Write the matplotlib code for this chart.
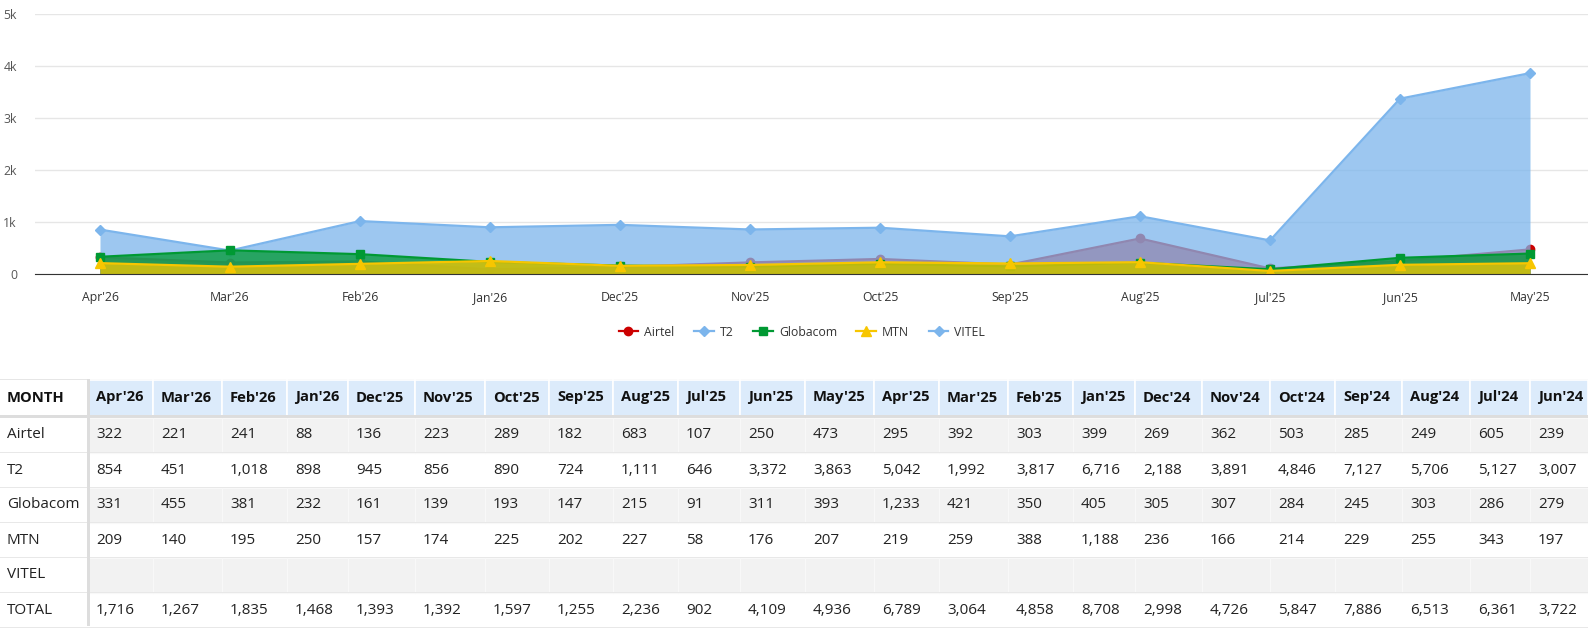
import matplotlib.pyplot as plt
from matplotlib.lines import Line2D
from matplotlib.patches import Rectangle

plt.rcParams['font.family'] = ['Open Sans', 'DejaVu Sans']

months = ["Apr'26", "Mar'26", "Feb'26", "Jan'26", "Dec'25", "Nov'25", "Oct'25", "Sep'25",
          "Aug'25", "Jul'25", "Jun'25", "May'25", "Apr'25", "Mar'25", "Feb'25", "Jan'25",
          "Dec'24", "Nov'24", "Oct'24", "Sep'24", "Aug'24", "Jul'24", "Jun'24"]
airtel = [322, 221, 241, 88, 136, 223, 289, 182, 683, 107, 250, 473, 295, 392, 303, 399,
          269, 362, 503, 285, 249, 605, 239]
t2 = [854, 451, 1018, 898, 945, 856, 890, 724, 1111, 646, 3372, 3863, 5042, 1992, 3817,
      6716, 2188, 3891, 4846, 7127, 5706, 5127, 3007]
globacom = [331, 455, 381, 232, 161, 139, 193, 147, 215, 91, 311, 393, 1233, 421, 350, 405,
            305, 307, 284, 245, 303, 286, 279]
mtn = [209, 140, 195, 250, 157, 174, 225, 202, 227, 58, 176, 207, 219, 259, 388, 1188,
       236, 166, 214, 229, 255, 343, 197]
vitel = [None] * len(months)
total = [1716, 1267, 1835, 1468, 1393, 1392, 1597, 1255, 2236, 902, 4109, 4936, 6789, 3064,
         4858, 8708, 2998, 4726, 5847, 7886, 6513, 6361, 3722]
n_chart = 12  # chart shows the latest 12 months

series = [
    ("Airtel", airtel, "#cc0000", "o", 6),
    ("T2", t2, "#7cb5ec", "D", 5),
    ("Globacom", globacom, "#009933", "s", 6),
    ("MTN", mtn, "#f7c600", "^", 7),
    ("VITEL", vitel, "#7cb5ec", "D", 5),
]

W, H = 1588, 640
fig = plt.figure(figsize=(W / 100, H / 100), dpi=100)

# ---- chart ----
x0, x1, y_top, y_bot = 35, 1588, 14, 274
ax = fig.add_axes([x0 / W, 1 - y_bot / H, (x1 - x0) / W, (y_bot - y_top) / H])
xs = list(range(n_chart))
z = 2
handles = []
for name, vals, col, mk, ms in series:
    v = vals[:n_chart]
    if all(a is not None for a in v):
        ax.fill_between(xs, 0, v, color=col, alpha=0.75, lw=0, zorder=z)
        ax.plot(xs, v, color=col, lw=1.6, marker=mk, ms=ms, zorder=z + 0.5)
    z += 1
    handles.append(Line2D([], [], color=col, lw=1.6, marker=mk, ms=ms))

ax.set_xlim(-0.5, 11 + 58 / 130)
ax.set_ylim(0, 5000)
ax.set_yticks([0, 1000, 2000, 3000, 4000, 5000])
ax.set_yticklabels(["0", "1k", "2k", "3k", "4k", "5k"])
ax.set_xticks(xs)
ax.set_xticklabels(months[:n_chart])
ax.tick_params(axis='y', length=0, pad=13, labelsize=8.8, labelcolor="#555555")
ax.tick_params(axis='x', length=0, pad=12, labelsize=8.8, labelcolor="#333333")
ax.grid(axis='y', color="#e6e6e6", lw=1, zorder=0)
ax.set_axisbelow(True)
for s in ["left", "right", "top"]:
    ax.spines[s].set_visible(False)
ax.spines["bottom"].set_color("#333333")
ax.spines["bottom"].set_zorder(20)

fig.legend(handles, [s[0] for s in series], loc="center", bbox_to_anchor=(802 / W, 1 - 332 / H),
           ncol=5, frameon=False, fontsize=8.8, handlelength=1.6, columnspacing=1.6,
           handletextpad=0.5, labelcolor="#333333")

# ---- table ----
tb = fig.add_axes([0, 0, 1, 1])
tb.set_xlim(0, W)
tb.set_ylim(H, 0)
tb.axis("off")

col_edges = [0, 88, 153, 222, 287, 348, 415, 485, 549, 613, 678, 740, 805, 874, 939, 1008,
             1073, 1135, 1202, 1270, 1335, 1402, 1470, 1530, 1588]
head_top, head_bot, row_h = 379, 416, 35

rows = [("Airtel", airtel), ("T2", t2), ("Globacom", globacom), ("MTN", mtn),
        ("VITEL", vitel), ("TOTAL", total)]

tb.add_patch(Rectangle((0, head_top), W, 1, color="#e6e6e6", lw=0))
for j, m in enumerate(months):
    l, r = col_edges[j + 1], col_edges[j + 2]
    tb.add_patch(Rectangle((l, head_top + 1), r - l, head_bot - head_top - 1,
                           facecolor="#dcebfb", edgecolor="white", lw=1.2))
    tb.text(l + 8, (head_top + head_bot) / 2, m, ha="left", va="center",
            fontsize=10.6, fontweight="bold", color="#111111")
tb.text(7, (head_top + head_bot) / 2, "MONTH", ha="left", va="center",
        fontsize=10.6, fontweight="bold", color="#111111")
tb.add_patch(Rectangle((0, head_bot - 1), W, 2.5, color="#dddddd", lw=0))

for i, (name, vals) in enumerate(rows):
    top = head_bot + 1.5 + i * row_h
    cy = top + row_h / 2
    if i % 2 == 0:
        for j in range(len(months)):
            l, r = col_edges[j + 1], col_edges[j + 2]
            tb.add_patch(Rectangle((l, top), r - l, row_h, facecolor="#f2f2f2",
                                   edgecolor="#f8f8f8", lw=0.8))
    tb.add_patch(Rectangle((0, top + row_h - 1), W, 1, color="#e8e8e8", lw=0))
    tb.text(7, cy, name, ha="left", va="center", fontsize=11, color="#222222")
    for j, v in enumerate(vals):
        if v is None:
            continue
        tb.text(col_edges[j + 1] + 8, cy, f"{v:,}", ha="left", va="center",
                fontsize=11, color="#222222")

tb.add_patch(Rectangle((87, head_top), 2.5, head_bot + 6 * row_h - head_top,
                       color="#dddddd", lw=0))

fig.savefig("out.png", dpi=100)
